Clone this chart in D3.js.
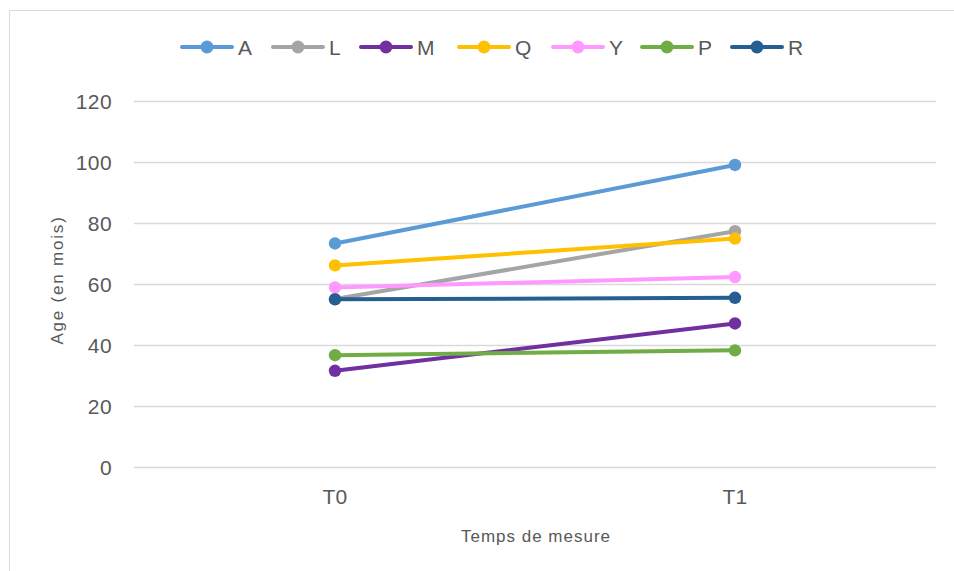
<!DOCTYPE html>
<html><head><meta charset="utf-8">
<script src="https://cdn.jsdelivr.net/npm/d3@7"></script>
<style>body{margin:0;background:#fff}svg{display:block}text{font-family:"Liberation Sans",Arial,sans-serif;fill:#595959}</style>
</head><body><svg id="c" width="954" height="571"></svg>
<script>
const categories = ["T0", "T1"];
const seriesNames = ["A", "L", "M", "Q", "Y", "P", "R"];
const seriesColors = ["#5B9BD5", "#A5A5A5", "#7030A0", "#FFC000", "#FF99FF", "#70AD47", "#255E91"];
const valuesA = [73.2, 98.9];
const valuesL = [55.0, 77.2];
const valuesM = [31.5, 47.0];
const valuesQ = [66.0, 74.8];
const valuesY = [58.8, 62.2];
const valuesP = [36.6, 38.2];
const valuesR = [54.9, 55.4];
const yTicks = [0, 20, 40, 60, 80, 100, 120];
const yTitle = "Age (en mois)";
const xTitle = "Temps de mesure";

const allValues = [valuesA, valuesL, valuesM, valuesQ, valuesY, valuesP, valuesR];
const series = seriesNames.map((n, i) => ({name: n, color: seriesColors[i], values: allValues[i]}));

const svg = d3.select("#c");
svg.append("rect").attr("x", 9.5).attr("y", 10.5).attr("width", 960).attr("height", 600)
  .attr("fill", "none").attr("stroke", "#d9d9d9").attr("stroke-width", 1);

const x = d3.scaleBand().domain(categories).range([135, 935]);
const y = d3.scaleLinear().domain([0, 120]).range([467, 100.5]);

// gridlines
svg.append("g").selectAll("line").data(yTicks).join("line")
  .attr("x1", 134).attr("x2", 936)
  .attr("y1", d => Math.round(y(d)) + 0.5).attr("y2", d => Math.round(y(d)) + 0.5)
  .attr("stroke", "#d9d9d9").attr("stroke-width", 1.3);

// y axis labels
const yAxis = svg.append("g").attr("transform", "translate(112,0)")
  .call(d3.axisLeft(y).tickValues(yTicks).tickSize(0).tickPadding(0));
yAxis.select(".domain").remove();
yAxis.selectAll("text").attr("font-size", 21).attr("letter-spacing", "0.4px")
  .attr("font-family", '"Liberation Sans",Arial,sans-serif').attr("fill", "#595959").attr("dy", "0.36em");

// x axis labels
const xAxis = svg.append("g").attr("transform", "translate(0,489)")
  .call(d3.axisBottom(x).tickSize(0).tickPadding(0));
xAxis.select(".domain").remove();
xAxis.selectAll("text").attr("font-size", 21).attr("letter-spacing", "0.2px")
  .attr("font-family", '"Liberation Sans",Arial,sans-serif').attr("fill", "#595959");

// axis titles
svg.append("text").attr("transform", "translate(63,280) rotate(-90)").attr("text-anchor", "middle")
  .attr("font-size", 17).attr("letter-spacing", "1.8px").text(yTitle);
svg.append("text").attr("x", 536).attr("y", 542).attr("text-anchor", "middle")
  .attr("font-size", 17).attr("letter-spacing", "1px").text(xTitle);

// lines
const cx = c => x(c) + x.bandwidth() / 2;
const line = d3.line().x((d, i) => cx(categories[i])).y(d => y(d));
const g = svg.append("g");
series.forEach(s => {
  g.append("path").attr("d", line(s.values)).attr("fill", "none")
    .attr("stroke", s.color).attr("stroke-width", 4).attr("stroke-linecap", "round");
  g.selectAll(null).data(s.values).join("circle")
    .attr("cx", (d, i) => cx(categories[i])).attr("cy", d => y(d)).attr("r", 6.2)
    .attr("fill", s.color);
});

// legend
const legendStarts = [180, 271, 359, 457, 551, 640, 730];
const lg = svg.append("g");
series.forEach((s, i) => {
  const x0 = legendStarts[i];
  const it = lg.append("g").attr("transform", `translate(${x0},47)`);
  it.append("line").attr("x1", 2).attr("x2", 52).attr("y1", 0).attr("y2", 0)
    .attr("stroke", s.color).attr("stroke-width", 4).attr("stroke-linecap", "round");
  it.append("circle").attr("cx", 27).attr("cy", 0).attr("r", 6.5).attr("fill", s.color);
  it.append("text").attr("x", 58).attr("y", 0).attr("dy", "0.36em").attr("font-size", 21).text(s.name);
});
</script></body></html>
